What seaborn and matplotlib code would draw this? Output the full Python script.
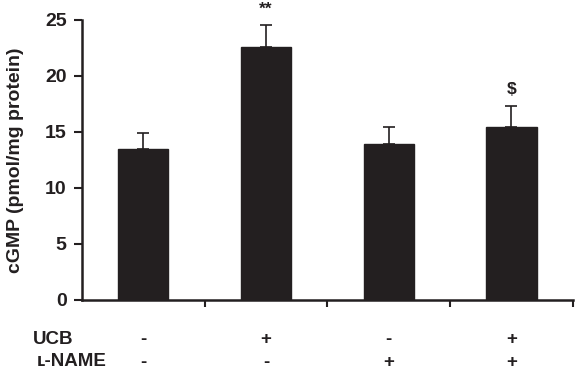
import numpy as np
import pandas as pd
import matplotlib
matplotlib.use("Agg")
import matplotlib.pyplot as plt
import matplotlib.transforms as mtransforms
import seaborn as sns

# values
groups = ["G1", "G2", "G3", "G4"]
cgmp = [13.5, 22.6, 13.9, 15.4]
sem = [1.4, 1.9, 1.5, 1.9]
marks = ["", "**", "", "$"]
ucb = ["-", "+", "-", "+"]
lname = ["-", "-", "+", "+"]

sns.set_style("ticks")
plt.rcParams["font.family"] = ["Liberation Sans", "DejaVu Sans"]

df = pd.DataFrame({"group": groups, "cgmp": cgmp})

fig = plt.figure(figsize=(5.81, 3.74), dpi=100)
ax = fig.add_axes([0.141, 0.198, 0.845, 0.749])

sns.barplot(data=df, x="group", y="cgmp", color="#231f20", saturation=1,
            width=0.41, errorbar=None, ax=ax)
for p in ax.patches:
    p.set_edgecolor("#231f20")

x = np.arange(len(groups))
ax.errorbar(x, cgmp, yerr=[np.zeros(len(sem)), sem], fmt="none",
            ecolor="#231f20", elinewidth=1.2, capsize=4.5, capthick=1.2)

for xi, m, v, e in zip(x, marks, cgmp, sem):
    if m:
        ax.text(xi, v + e + 0.8, m, ha="center", va="bottom",
                fontsize=12.5, fontweight="bold", color="#231f20")

ax.set_ylim(0, 25)
ax.set_xlim(-0.5, 3.5)
ax.set_yticks([0, 5, 10, 15, 20, 25])
ax.set_ylabel("cGMP (pmol/mg protein)", fontsize=14, fontweight="bold",
              color="#231f20")
ax.yaxis.set_label_coords(-0.118, 0.5)
ax.set_xlabel("")

# tick marks at category boundaries, no labels
ax.set_xticks([0.5, 1.5, 2.5, 3.5])
ax.set_xticklabels([])
ax.tick_params(axis="x", direction="out", length=5, width=1.5, colors="#231f20")
ax.tick_params(axis="y", direction="out", length=6, width=1.5, colors="#231f20",
               labelsize=14, pad=5)
for lab in ax.get_yticklabels():
    lab.set_fontweight("bold")

sns.despine(ax=ax)
for side in ["left", "bottom"]:
    ax.spines[side].set_linewidth(1.8)
    ax.spines[side].set_color("#231f20")

# treatment table under the axis
trans = mtransforms.blended_transform_factory(ax.transData, ax.transAxes)
for xi, u, l in zip(x, ucb, lname):
    ax.text(xi, -0.14, u, transform=trans, ha="center", va="center",
            fontsize=13.5, fontweight="bold", color="#231f20")
    ax.text(xi, -0.222, l, transform=trans, ha="center", va="center",
            fontsize=13.5, fontweight="bold", color="#231f20")
fig.text(0.057, 1 - 339 / 374, "UCB", ha="left", va="center",
         fontsize=13.5, fontweight="bold", color="#231f20")
fig.text(0.063, 1 - 362 / 374, "ʟ-NAME", ha="left", va="center",
         fontsize=13.5, fontweight="bold", color="#231f20")

fig.savefig("out.png", dpi=100)
